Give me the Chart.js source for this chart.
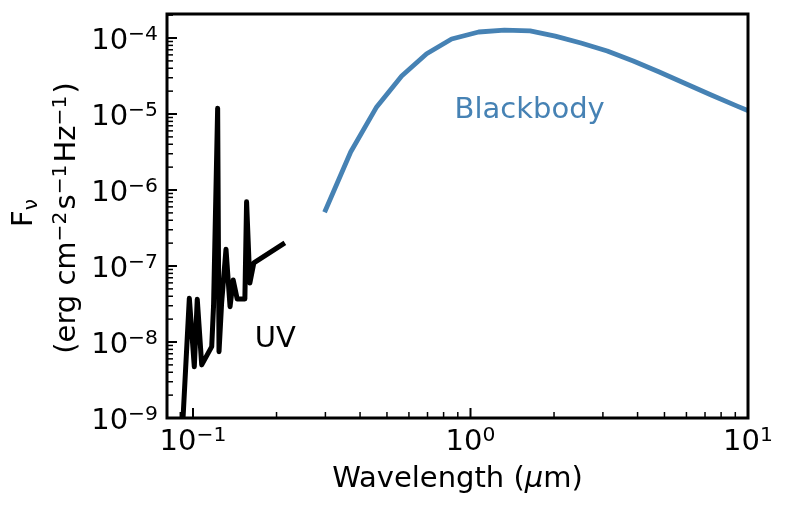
<!DOCTYPE html>
<html>
<head>
<meta charset="utf-8">
<script src="https://cdn.jsdelivr.net/npm/chart.js@4.4.1/dist/chart.umd.min.js"></script>
<style>
  html, body { margin: 0; padding: 0; background: #fff; }
  #wrap { width: 790px; height: 509px; }
</style>
</head>
<body>
<div id="wrap"><canvas id="sed" width="790" height="509"></canvas></div>
<script>
// UV spectrum (wavelength in micron, F_nu)
const uvWavelength = [0.0905, 0.0970, 0.1011, 0.1036, 0.1075, 0.1168, 0.1186, 0.1227, 0.1241, 0.1268,
  0.1315, 0.1360, 0.1396, 0.1443, 0.1538, 0.1560, 0.1603, 0.1657, 0.2143];
const uvFlux = [3e-10, 3.76e-8, 4.73e-9, 3.65e-8, 5.0e-9, 8.7e-9, 2.98e-8, 1.19e-5, 7.45e-9, 3.26e-8,
  1.66e-7, 2.92e-8, 6.55e-8, 3.68e-8, 3.68e-8, 7.0e-7, 5.97e-8, 1.1e-7, 2.01e-7];

// blackbody curve
const bbWavelength = [0.298, 0.370, 0.459, 0.565, 0.695, 0.855, 1.07, 1.325, 1.64, 2.02,
  2.5, 3.11, 3.86, 4.79, 5.94, 7.37, 9.14, 11.3];
const bbFlux = [5.1e-7, 3.16e-6, 1.24e-5, 3.16e-5, 6.2e-5, 9.7e-5, 1.2e-4, 1.27e-4, 1.24e-4, 1.06e-4,
  8.59e-5, 6.74e-5, 4.98e-5, 3.57e-5, 2.52e-5, 1.78e-5, 1.27e-5, 9.14e-6];

const xTickValues = [0.1, 1, 10];
const xTickLabels = [['10', '−1'], ['10', '0'], ['10', '1']];
const yTickValues = [1e-9, 1e-8, 1e-7, 1e-6, 1e-5, 1e-4];
const yTickLabels = [['10', '−9'], ['10', '−8'], ['10', '−7'], ['10', '−6'], ['10', '−5'], ['10', '−4']];

const X_MIN = 0.0806, X_MAX = 10;
const Y_MIN = 1e-9, Y_MAX = 2.07e-4;

const uvNote = { text: 'UV', x: 0.167, y: 8.6e-9, color: '#000000' };
const bbNote = { text: 'Blackbody', x: 0.876, y: 8.9e-6, color: '#4682b4' };

const FONT = '"DejaVu Sans", sans-serif';
const BIG = 29;
const SMALL = 20.3;

function seg(t, opts) {
  return Object.assign({ t, size: BIG, dy: 0, italic: false, gap: 0 }, opts || {});
}
function sup(t, gap) { return seg(t, { size: SMALL, dy: -8.6, gap: gap || 0 }); }

function segsWidth(ctx, segs) {
  let w = 0;
  segs.forEach((s) => {
    ctx.font = (s.italic ? 'italic ' : '') + s.size + 'px ' + FONT;
    w += ctx.measureText(s.t).width + s.gap;
  });
  return w;
}

function drawSegs(ctx, segs, x, y) {
  let cx = x;
  segs.forEach((s) => {
    ctx.font = (s.italic ? 'italic ' : '') + s.size + 'px ' + FONT;
    ctx.fillText(s.t, cx, y + s.dy);
    cx += ctx.measureText(s.t).width + s.gap;
  });
}

function logTicks(min, max) {
  const out = [];
  for (let e = Math.floor(Math.log10(min)); e <= Math.ceil(Math.log10(max)); e++) {
    for (let k = 1; k <= 9; k++) {
      const v = k * Math.pow(10, e);
      if (v >= min * 0.999 && v <= max * 1.001) out.push({ v, major: k === 1 });
    }
  }
  return out;
}

const decorations = {
  id: 'decorations',
  afterDatasetsDraw(chart) {
    const { ctx, chartArea: a, scales: { x, y } } = chart;
    ctx.save();
    ctx.strokeStyle = '#000';
    ctx.fillStyle = '#000';
    ctx.textBaseline = 'alphabetic';
    ctx.textAlign = 'left';

    // inward ticks
    logTicks(X_MIN, X_MAX).forEach((t) => {
      const px = x.getPixelForValue(t.v);
      ctx.lineWidth = t.major ? 2 : 1.5;
      ctx.beginPath();
      ctx.moveTo(px, a.bottom);
      ctx.lineTo(px, a.bottom - (t.major ? 10 : 6));
      ctx.stroke();
    });
    logTicks(Y_MIN, Y_MAX).forEach((t) => {
      const py = y.getPixelForValue(t.v);
      ctx.lineWidth = t.major ? 2 : 1.5;
      ctx.beginPath();
      ctx.moveTo(a.left, py);
      ctx.lineTo(a.left + (t.major ? 10 : 6), py);
      ctx.stroke();
    });

    // frame
    ctx.lineWidth = 3;
    ctx.strokeRect(a.left, a.top, a.right - a.left, a.bottom - a.top);

    // tick labels
    xTickValues.forEach((v, i) => {
      const segs = [seg(xTickLabels[i][0]), sup(xTickLabels[i][1])];
      const w = segsWidth(ctx, segs);
      drawSegs(ctx, segs, x.getPixelForValue(v) - w / 2, a.bottom + 32);
    });
    yTickValues.forEach((v, i) => {
      const segs = [seg(yTickLabels[i][0]), sup(yTickLabels[i][1])];
      const w = segsWidth(ctx, segs);
      drawSegs(ctx, segs, a.left - 9 - w, y.getPixelForValue(v) + 10.5);
    });

    // x title
    const xt = [seg('Wavelength ('), seg('μ', { italic: true }), seg('m)')];
    drawSegs(ctx, xt, (a.left + a.right) / 2 - segsWidth(ctx, xt) / 2, 487);

    // y title, two lines rotated
    const mid = (a.top + a.bottom) / 2;
    const line1 = [seg('F'), seg('ν', { size: SMALL, dy: 5 })];
    const line2 = [seg('(erg cm'), sup('−2', 2), seg('s'), sup('−1', 2), seg('Hz'), sup('−1', 2), seg(')')];
    [[line1, 32, mid - 3], [line2, 75, mid + 2]].forEach(([segs, bx, cy]) => {
      ctx.save();
      ctx.translate(bx, cy);
      ctx.rotate(-Math.PI / 2);
      drawSegs(ctx, segs, -segsWidth(ctx, segs) / 2, 0);
      ctx.restore();
    });

    // annotations
    [uvNote, bbNote].forEach((n) => {
      ctx.fillStyle = n.color;
      ctx.font = BIG + 'px ' + FONT;
      ctx.fillText(n.text, x.getPixelForValue(n.x), y.getPixelForValue(n.y));
    });
    ctx.restore();
  },
};

const toPoints = (xs, ys) => xs.map((v, i) => ({ x: v, y: ys[i] }));

new Chart(document.getElementById('sed'), {
  type: 'line',
  data: {
    datasets: [
      {
        label: 'UV',
        data: toPoints(uvWavelength, uvFlux),
        borderColor: '#000000',
        borderWidth: 5,
        pointRadius: 0,
        tension: 0,
        borderJoinStyle: 'round',
        clip: 0,
      },
      {
        label: 'Blackbody',
        data: toPoints(bbWavelength, bbFlux),
        borderColor: '#4682b4',
        borderWidth: 4.8,
        pointRadius: 0,
        tension: 0,
        borderJoinStyle: 'round',
        clip: 0,
      },
    ],
  },
  options: {
    responsive: false,
    animation: false,
    devicePixelRatio: 1,
    layout: { padding: { left: 167, right: 42, top: 14, bottom: 91 } },
    plugins: { legend: { display: false }, tooltip: { enabled: false } },
    scales: {
      x: { type: 'logarithmic', min: X_MIN, max: X_MAX, display: false },
      y: { type: 'logarithmic', min: Y_MIN, max: Y_MAX, display: false },
    },
  },
  plugins: [decorations],
});
</script>
</body>
</html>
